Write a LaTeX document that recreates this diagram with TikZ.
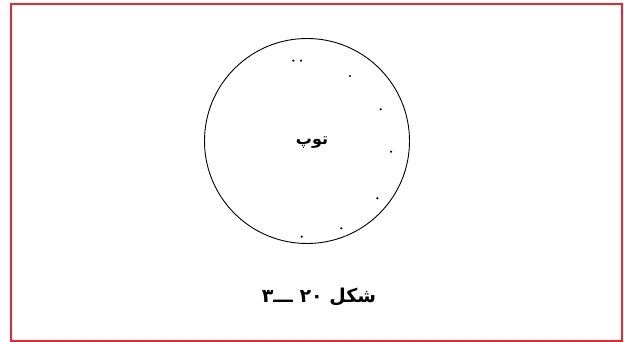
\documentclass[tikz,border=0pt]{standalone}
\usepackage{fontspec}
\newfontfamily\arabicfont[Script=Arabic]{DejaVu Sans}
\TeXXeTstate=1
\definecolor{frame}{RGB}{232,40,48}
\tikzset{
  dot/.style={circle,fill=black,inner sep=0pt,minimum size=2.4pt},
  lbl/.style={inner sep=0pt,font=\arabicfont\bfseries}
}
\begin{document}
\begin{tikzpicture}[x=1pt,y=-1pt]
\useasboundingbox (0,0) rectangle (624,342);
\draw[frame,line width=2pt] (11,4) rectangle (622,341);
\node[circle,draw,line width=0.9pt,minimum size=205pt,inner sep=0pt] (ball) at (307,141) {};
\node[lbl,font=\arabicfont\bfseries\fontsize{16}{19}\selectfont] (name) at (312,143) {\beginR توپ\endR};
\node[dot] (d1) at (293.3,60.7) {};
\node[dot] (d2) at (301,60.7) {};
\node[dot] (d3) at (350,76) {};
\node[dot] (d4) at (380.7,109.3) {};
\node[dot] (d5) at (391,151.7) {};
\node[dot] (d6) at (377.3,198.3) {};
\node[dot] (d7) at (341.3,228.3) {};
\node[dot] (d8) at (301.7,236.7) {};
\node[lbl,font=\arabicfont\bfseries\fontsize{19}{23}\selectfont] (cap) at (319,297) {\beginR شکل \beginL۲۰\endL{} ـــ\kern0pt ۳\endR};
\end{tikzpicture}
\end{document}
